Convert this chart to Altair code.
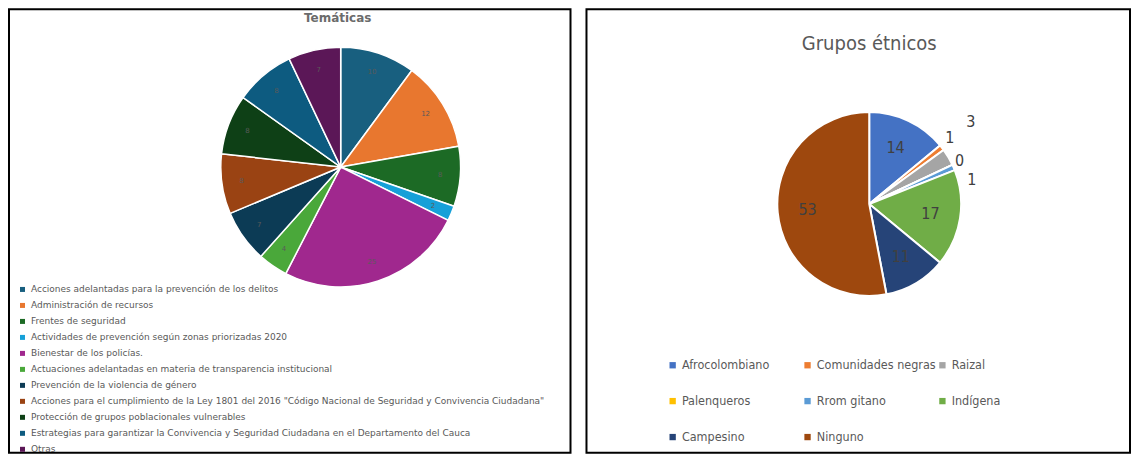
import altair as alt
import pandas as pd

# ---------------- data ----------------
tema_cats = [
    "Acciones adelantadas para la prevención de los delitos",
    "Administración de recursos",
    "Frentes de seguridad",
    "Actividades de prevención según zonas priorizadas 2020",
    "Bienestar de los policías.",
    "Actuaciones adelantadas en materia de transparencia institucional",
    "Prevención de la violencia de género",
    "Acciones para el cumplimiento de la Ley 1801 del 2016 \"Código Nacional de Seguridad y Convivencia Ciudadana\"",
    "Protección de grupos poblacionales vulnerables",
    "Estrategias para garantizar la Convivencia y Seguridad Ciudadana en el Departamento del Cauca",
    "Otras",
]
tema_vals = [10, 12, 8, 2, 25, 4, 7, 8, 8, 8, 7]
tema_colors = ["#185f7f", "#e8772f", "#1c6a25", "#16a0d8", "#a0288e", "#4aa83a",
               "#0c3b55", "#9a4313", "#0e4016", "#0d5b80", "#5b1757"]

grupo_cats = ["Afrocolombiano", "Comunidades negras", "Raizal", "Palenqueros",
              "Rrom gitano", "Indígena", "Campesino", "Ninguno"]
grupo_vals = [14, 1, 3, 0, 1, 17, 11, 53]
grupo_colors = ["#4472C4", "#ED7D31", "#A5A5A5", "#FFC000", "#5B9BD5", "#70AD47",
                "#264478", "#9E480E"]

NARROW = "DejaVu Sans Condensed, Liberation Sans, sans-serif"

# ---------------- left panel ----------------
df1 = pd.DataFrame({"tema": tema_cats, "n": tema_vals, "idx": list(range(len(tema_cats)))})

base1 = alt.Chart(df1).encode(
    theta=alt.Theta("n:Q", stack=True),
    order=alt.Order("idx:Q"),
    x=alt.value(332),
    y=alt.value(158),
)
pie1 = base1.mark_arc(outerRadius=120, stroke="white", strokeWidth=1.5).encode(
    color=alt.Color(
        "tema:N",
        sort=tema_cats,
        scale=alt.Scale(domain=tema_cats, range=tema_colors),
        legend=alt.Legend(
            title=None, orient="none", legendX=9, legendY=276,
            direction="vertical", symbolType="square", symbolSize=25,
            symbolStrokeWidth=0, labelFontSize=9, labelColor="#595959",
            labelFont="DejaVu Sans", labelLimit=700, rowPadding=6,
            labelOffset=4,
        ),
    )
)
lab1 = base1.mark_text(radius=100, fontSize=7, fill="#5a5a5a", font="DejaVu Sans").encode(
    text="n:Q"
)
left = alt.layer(pie1, lab1).properties(
    width=562, height=444,
    title=alt.TitleParams("Temáticas", fontSize=12, fontWeight="bold", color="#6b6b6b",
                          font="DejaVu Sans", offset=-16, dx=48),
)

# ---------------- right panel ----------------
df2 = pd.DataFrame({"grupo": grupo_cats, "n": grupo_vals, "idx": list(range(len(grupo_cats)))})

base2 = alt.Chart(df2).encode(
    theta=alt.Theta("n:Q", stack=True),
    order=alt.Order("idx:Q"),
    x=alt.value(283),
    y=alt.value(195),
)
pie2 = base2.mark_arc(outerRadius=92, stroke="white", strokeWidth=2).encode(
    color=alt.Color(
        "grupo:N",
        sort=grupo_cats,
        scale=alt.Scale(domain=grupo_cats, range=grupo_colors),
        legend=alt.Legend(
            title=None, orient="none", legendX=80, legendY=350, columns=3,
            direction="horizontal", gridAlign="all", symbolType="square",
            symbolSize=40, symbolStrokeWidth=0, labelFontSize=12.5,
            labelColor="#595959", labelFont=NARROW, labelOffset=3,
            labelLimit=300, columnPadding=0, rowPadding=23,
        ),
    )
)

txt_style = dict(fontSize=16, fill="#404040", font=NARROW)


def label_layer(test, radius, dy=0):
    return base2.transform_calculate(
        lbl=f"({test}) ? format(datum.n, 'd') : ''"
    ).mark_text(radius=radius, dy=dy, **txt_style).encode(text="lbl:N")


lab_big = label_layer("datum.n >= 5", 62)
lab_cn = label_layer("datum.grupo == 'Comunidades negras'", 102, -4)
lab_rz = label_layer("datum.grupo == 'Raizal'", 118, -22)
lab_pa = label_layer("datum.grupo == 'Palenqueros'", 100)
lab_rr = label_layer("datum.grupo == 'Rrom gitano'", 112, 20)

right = alt.layer(pie2, lab_big, lab_cn, lab_rz, lab_pa, lab_rr).properties(
    width=544, height=444,
    title=alt.TitleParams("Grupos étnicos", fontSize=20, fontWeight="normal",
                          color="#595959", font=NARROW,
                          offset=-45, dx=11),
)

chart = (
    alt.hconcat(left, right, spacing=14)
    .resolve_scale(color="independent", theta="independent")
    .resolve_legend(color="independent")
    .properties(padding=0, background="white")
    .configure_view(stroke="black", strokeWidth=2)
)

chart.save("out.html", embed_options={"renderer": "svg", "actions": False})
